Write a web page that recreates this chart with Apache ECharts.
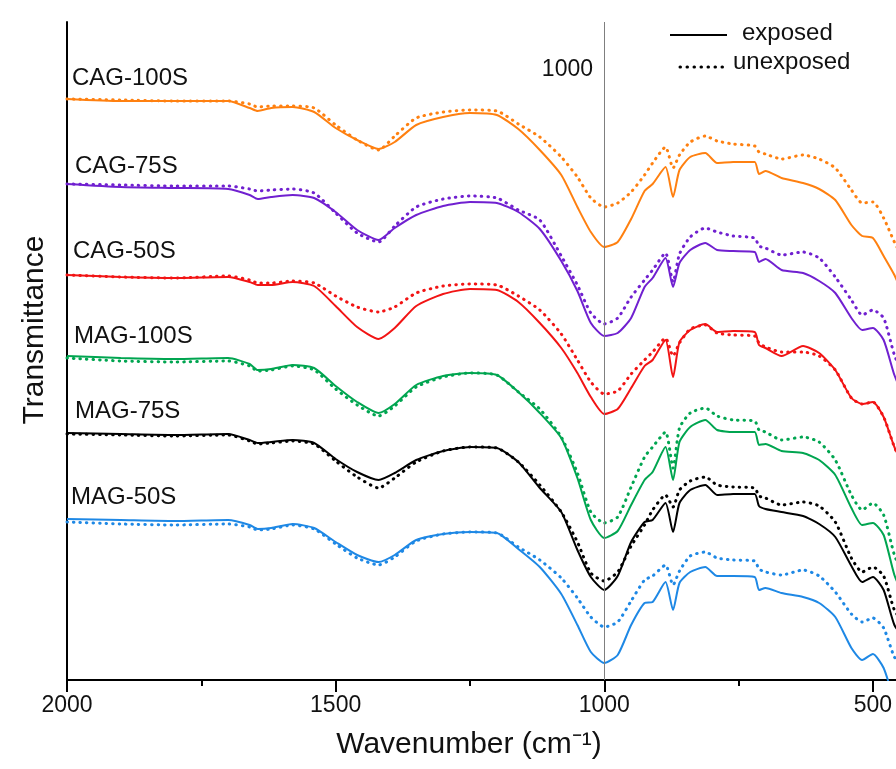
<!DOCTYPE html>
<html>
<head>
<meta charset="utf-8">
</head>
<body style="margin: 0; background: #fff">
<div id="container" style="width: 896px; height: 769px"></div>
<script src="https://cdn.jsdelivr.net/npm/echarts@6/dist/echarts.min.js"></script>
<script type="text/javascript">
// wavenumbers (cm-1) at which the spectra were read
var wavenumbers = [2000,1900,1800,1700,1660,1645,1620,1580,1540,1500,1460,1420,1390,1350,1300,1250,1200,1160,1120,1080,1050,1025,1000,975,950,925,910,886,872,860,840,812,790,760,720,712,700,670,630,600,570,540,520,500,480,460,440];

// transmittance, arbitrary offset units (spectra are stacked)
var cag100Exposed   = [581,579,579,579,572,569,572,573,568,552,540,531,538,555,563,567,565,551,530,505,473,448,433,438,461,489,496,513,483,510,523,527,517,518,518,506,509,502,497,491,480,455,444,442,424,405,380];
var cag100Unexposed = [581,580,579,579,576,573,574,574,572,555,540,530,544,562,568,570,569,556,543,523,503,482,473,477,488,505,517,533,512,525,538,544,539,536,534,528,526,521,525,521,512,490,477,478,462,438,418];
var cag75Exposed    = [496,493,492,491,485,481,483,485,482,468,450,440,452,465,474,478,477,468,451,419,389,357,344,347,362,393,402,422,393,417,430,437,430,429,428,418,421,410,407,399,387,362,350,352,340,305,280];
var cag75Unexposed  = [496,495,494,494,491,489,490,491,487,467,447,438,454,473,481,484,482,470,460,424,395,367,356,362,383,400,410,427,398,426,443,452,448,444,442,434,432,425,428,422,403,380,365,370,362,325,300];
var cag50Exposed    = [405,403,402,403,398,395,395,398,394,374,353,341,352,374,386,391,390,378,357,332,307,283,266,271,292,314,320,340,303,338,350,356,348,349,348,335,332,324,334,327,310,282,276,278,263,233,210];
var cag50Unexposed  = [405,403,402,404,400,397,397,399,397,384,373,368,373,387,394,396,395,384,370,346,320,298,286,289,306,320,328,342,324,337,351,355,347,345,344,337,333,328,328,324,310,282,276,278,263,233,210];
var mag100Exposed   = [324,322,321,322,316,310,311,315,312,294,278,267,276,295,304,307,305,288,267,242,202,160,142,149,175,200,208,233,200,238,253,260,250,248,248,235,236,229,227,220,205,172,155,157,145,105,80];
var mag100Unexposed = [322,319,318,319,314,309,310,314,310,291,275,264,274,293,303,307,305,288,271,243,207,168,157,163,193,223,233,248,212,252,267,272,264,260,259,250,248,240,243,238,220,185,170,177,165,125,100];
var mag75Exposed    = [247,246,245,246,240,237,238,240,237,221,208,200,207,220,229,233,232,218,192,168,130,103,90,104,138,158,160,177,148,177,190,195,185,186,186,174,171,168,164,156,143,114,98,103,90,55,40];
var mag75Unexposed  = [246,245,244,245,239,236,237,239,236,219,203,192,202,218,229,233,232,218,195,168,138,107,99,108,134,155,170,185,173,190,199,203,195,193,192,184,182,175,178,174,158,122,108,113,104,70,55];
var mag50Exposed    = [161,160,159,160,155,151,152,156,152,138,125,118,125,140,146,148,147,131,113,86,55,28,17,25,55,77,78,98,70,97,108,113,104,104,103,90,92,87,83,77,63,32,20,26,12,-20,-40];
var mag50Unexposed  = [158,156,155,156,153,150,151,155,151,136,122,115,123,139,146,148,147,133,120,102,82,63,53,58,79,100,104,115,95,109,124,128,122,120,119,111,108,105,110,104,88,66,58,62,52,23,10];

var sampleNames = ['CAG-100S', 'CAG-75S', 'CAG-50S', 'MAG-100S', 'MAG-75S', 'MAG-50S'];
var sampleColors = ['#FF8010', '#7020D0', '#F21414', '#00A550', '#000000', '#1E88E5'];
var exposedSets = [cag100Exposed, cag75Exposed, cag50Exposed, mag100Exposed, mag75Exposed, mag50Exposed];
var unexposedSets = [cag100Unexposed, cag75Unexposed, cag50Unexposed, mag100Unexposed, mag75Unexposed, mag50Unexposed];
var majorTicks = [500, 1000, 1500, 2000];
var minorTicks = [750, 1250, 1750];
var markedWavenumber = 1000;

var FONT = '"Liberation Sans", Arial, sans-serif';

function pairs(vals) {
    return wavenumbers.map(function (w, i) { return [w, vals[i]]; });
}

function spectrum(name, vals, color, dotted) {
    return {
        name: name,
        type: 'line',
        data: pairs(vals),
        showSymbol: false,
        smooth: 0.2,
        z: dotted ? 3 : 2,
        lineStyle: dotted
            ? { color: color, width: 3, type: [0.5, 6], cap: 'round' }
            : { color: color, width: 2 }
    };
}

var series = [];
for (var i = 0; i < sampleNames.length; i++) {
    series.push(spectrum(sampleNames[i] + ' exposed', exposedSets[i], sampleColors[i], false));
    series.push(spectrum(sampleNames[i] + ' unexposed', unexposedSets[i], sampleColors[i], true));
}
series[0].markLine = {
    silent: true,
    symbol: ['none', 'none'],
    label: { show: false },
    lineStyle: { color: '#7f7f7f', width: 1, type: 'solid' },
    data: [{ xAxis: markedWavenumber }]
};

// sample names next to the curves
var labelPos = [[72, 78], [75, 166], [73, 251], [74, 336], [75, 411], [71, 497]];
var graphics = sampleNames.map(function (n, i) {
    return {
        type: 'text', x: labelPos[i][0], y: labelPos[i][1],
        style: { text: n, font: '24px ' + FONT, fill: '#111', verticalAlign: 'middle' }
    };
});
graphics.push(
    { type: 'text', x: 593, y: 70, style: { text: String(markedWavenumber), font: '23px ' + FONT, fill: '#111', align: 'right', verticalAlign: 'middle' } },
    // legend
    { type: 'line', shape: { x1: 670, y1: 35, x2: 727, y2: 35 }, style: { stroke: '#000', lineWidth: 2 } },
    { type: 'line', shape: { x1: 680, y1: 67, x2: 723, y2: 67 }, style: { stroke: '#000', lineWidth: 3, lineDash: [0.5, 6.5], lineCap: 'round' } },
    { type: 'text', x: 742, y: 33, style: { text: 'exposed', font: '24px ' + FONT, fill: '#111', verticalAlign: 'middle' } },
    { type: 'text', x: 733, y: 62, style: { text: 'unexposed', font: '24px ' + FONT, fill: '#111', verticalAlign: 'middle' } },
    // axis titles
    { type: 'text', x: 469, y: 745, style: { text: 'Wavenumber (cm\u207B\u00B9)', font: '30px ' + FONT, fill: '#111', align: 'center', verticalAlign: 'middle' } },
    { type: 'text', x: 35, y: 330, rotation: Math.PI / 2, style: { text: 'Transmittance', font: '30px ' + FONT, fill: '#111', align: 'center', verticalAlign: 'middle' } }
);

var xRange = { min: 457, max: 2000 };

var chart = echarts.init(document.getElementById('container'));
chart.setOption({
    animation: false,
    backgroundColor: '#fff',
    grid: { left: 67, top: 22, bottom: 89, right: 0, containLabel: false },
    xAxis: [{
        type: 'value',
        inverse: true,
        min: xRange.min,
        max: xRange.max,
        position: 'bottom',
        axisLine: { onZero: false, lineStyle: { color: '#000', width: 2 } },
        axisTick: { length: 12, customValues: majorTicks, lineStyle: { color: '#000', width: 2 } },
        splitLine: { show: false },
        axisLabel: {
            customValues: majorTicks, margin: 14, fontSize: 23, fontFamily: FONT, color: '#111',
            formatter: function (v) { return String(v); }
        }
    }, {
        type: 'value',
        inverse: true,
        min: xRange.min,
        max: xRange.max,
        position: 'bottom',
        offset: 0,
        axisLine: { show: false, onZero: false },
        axisTick: { length: 6, customValues: minorTicks, lineStyle: { color: '#000', width: 2 } },
        splitLine: { show: false },
        axisLabel: { show: false }
    }],
    yAxis: {
        type: 'value',
        min: 0,
        max: 658,
        position: 'left',
        axisLine: { show: true, onZero: false, lineStyle: { color: '#000', width: 2 } },
        axisTick: { show: false },
        axisLabel: { show: false },
        splitLine: { show: false }
    },
    graphic: graphics,
    series: series
});
</script>
</body>
</html>
